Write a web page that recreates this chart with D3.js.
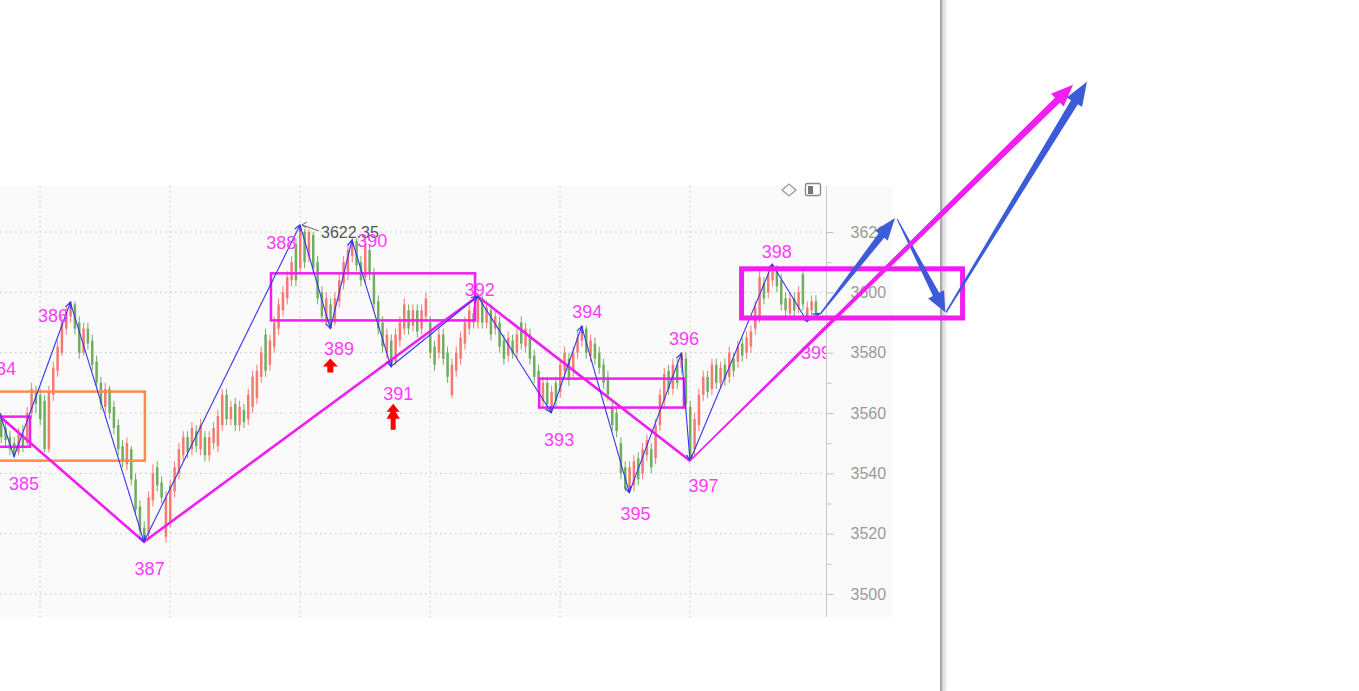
<!DOCTYPE html>
<html><head><meta charset="utf-8">
<script src="https://cdn.jsdelivr.net/npm/d3@7"></script>
<style>html,body{margin:0;padding:0;background:#fff;overflow:hidden}</style>
</head><body><svg id="c" width="1359" height="691"></svg>
<script>
// ---------- DATA ----------
const opens = [3558,3555,3552,3550,3547,3553,3550,3560,3567,3566,3564,3548,3566,3574,3580,3588,3592,3596,3590,3580,
3588,3584,3577,3570,3562,3568,3562,3556,3549,3543,3548,3538,3529,3522,3520,3531,3542,3537,3519,3524,
3534,3540,3546,3552,3548,3554,3548,3552,3546,3550,3549,3556,3566,3558,3563,3556,3561,3558,3562,3565,
3572,3586,3576,3582,3588,3594,3598,3604,3616,3608,3620,3612,3619,3610,3600,3590,3596,3590,3597,3603,
3606,3612,3617,3610,3605,3614,3606,3597,3590,3580,3584,3577,3584,3588,3594,3589,3594,3588,3592,3590,
3582,3580,3586,3580,3566,3574,3578,3583,3588,3593,3590,3598,3590,3594,3588,3590,3584,3579,3584,3580,
3590,3582,3586,3579,3574,3564,3570,3561,3570,3567,3574,3578,3574,3580,3584,3588,3579,3583,3580,3576,
3572,3562,3560,3550,3542,3534,3536,3545,3540,3546,3548,3545,3556,3564,3574,3568,3576,3575,3578,3562,
3548,3556,3566,3572,3568,3576,3570,3576,3572,3578,3577,3583,3580,3582,3588,3592,3603,3600,3604,3608,
3604,3598,3593,3598,3595,3606,3592,3594,3597];
const closes = [3552,3551,3548,3546,3553,3549,3560,3568,3563,3558,3548,3567,3575,3582,3590,3594,3597,3588,3580,3588,
3583,3576,3570,3563,3568,3560,3555,3548,3544,3550,3538,3528,3521,3518,3532,3540,3536,3532,3532,3536,
3542,3548,3552,3547,3555,3549,3556,3546,3552,3555,3559,3566,3558,3562,3556,3562,3557,3566,3572,3574,
3580,3574,3584,3590,3596,3600,3605,3610,3604,3622,3610,3620,3608,3598,3592,3598,3588,3598,3604,3610,
3614,3617,3609,3604,3616,3606,3596,3588,3582,3586,3576,3586,3590,3596,3588,3594,3587,3594,3598,3580,
3576,3586,3578,3572,3576,3580,3585,3590,3594,3590,3599,3590,3595,3586,3592,3582,3578,3585,3580,3586,
3583,3588,3578,3572,3568,3570,3563,3567,3564,3576,3580,3571,3580,3585,3589,3580,3584,3578,3575,3570,
3566,3556,3554,3540,3535,3542,3544,3538,3548,3551,3542,3556,3566,3573,3568,3576,3570,3580,3563,3545,
3558,3566,3572,3567,3576,3570,3575,3571,3580,3574,3582,3579,3585,3587,3595,3605,3598,3606,3609,3602,
3596,3594,3598,3594,3600,3596,3595,3597,3593];
const highs = [3560,3557,3554,3552,3555,3556,3562,3570,3569,3568,3566,3569,3577,3584,3592,3595,3597,3597,3592,3590,
3590,3586,3579,3572,3570,3569,3564,3558,3551,3552,3549,3540,3531,3524,3534,3543,3544,3539,3534,3538,
3544,3550,3554,3554,3557,3556,3558,3554,3554,3557,3561,3568,3568,3564,3565,3564,3563,3568,3574,3576,
3582,3588,3586,3592,3598,3602,3607,3612,3618,3622.35,3621,3621,3620,3612,3602,3600,3598,3600,3606,3612,
3616,3618,3618,3612,3618,3616,3608,3599,3592,3588,3586,3588,3592,3598,3596,3596,3596,3596,3600,3592,
3584,3588,3588,3582,3578,3582,3587,3592,3596,3595,3600,3599,3597,3596,3594,3592,3586,3587,3586,3588,
3592,3590,3588,3581,3576,3572,3572,3569,3572,3578,3582,3580,3582,3587,3589,3589,3586,3585,3582,3578,
3574,3564,3562,3552,3544,3544,3546,3547,3550,3553,3550,3558,3568,3575,3576,3578,3578,3580,3580,3564,
3560,3568,3574,3574,3578,3578,3577,3578,3582,3580,3584,3585,3587,3589,3597,3607,3605,3608,3609.3,3609,
3606,3600,3600,3600,3602,3607,3597,3599,3599];
const lows = [3550,3549,3546,3545,3546,3547,3549,3558,3560,3556,3547,3547,3564,3572,3579,3586,3590,3586,3578,3579,
3581,3574,3568,3561,3560,3558,3553,3546,3542,3541,3536,3526,3519,3517,3518,3529,3534,3530,3517,3522,
3532,3538,3544,3545,3546,3547,3546,3544,3544,3548,3547,3554,3556,3556,3554,3554,3555,3556,3560,3563,
3570,3572,3574,3580,3586,3592,3596,3602,3602,3606,3608,3610,3606,3596,3590,3589,3588,3589,3595,3601,
3604,3610,3607,3602,3603,3604,3594,3586,3580,3578,3575,3576,3582,3586,3586,3587,3585,3586,3590,3578,
3574,3578,3576,3570,3565,3572,3576,3581,3586,3588,3588,3588,3588,3584,3586,3580,3576,3577,3578,3578,
3581,3580,3576,3570,3566,3562,3561,3560,3562,3565,3572,3569,3572,3578,3582,3578,3577,3576,3573,3568,
3564,3554,3552,3538,3534,3533.6,3534,3536,3538,3544,3540,3543,3554,3562,3566,3566,3568,3573,3561,3544,
3546,3554,3564,3565,3566,3568,3568,3569,3570,3572,3575,3577,3578,3580,3586,3590,3596,3598,3602,3600,
3594,3592,3591,3592,3593,3594,3590.4,3592,3591];

// blue zigzag pivots [barIndex, price]
const blueZigzag = [[-1,3563],[3,3545.5],[16,3596.7],[33,3517.3],[69,3622.35],[76,3588],[81,3617.3],[90,3575.4],
  [110,3598.7],[127,3560.1],[134,3588.7],[145,3533.6],[157,3579.7],[159,3544.2],[178,3609.3],[186,3590.4],[188.8,3593]];
// magenta zigzag pivots
const magentaZigzag = [[-1,3559.8],[33,3517.3],[110,3598.7],[159,3544.2]];
// wave labels [text, barIndex, price]
const waveLabels = [["384",0,3574.8],["385",5.3,3536.5],["386",12,3592.4],["387",34.3,3508.6],["388",64.7,3616.6],
  ["389",78,3581.4],["390",85.7,3617.3],["391",91.7,3566.4],["392",110.5,3601],["393",128.8,3551.2],["394",135.3,3593.7],
  ["395",146.4,3526.6],["396",157.6,3584.7],["397",162.1,3535.9],["398",179,3613.6],["399",188.1,3580.1]];
// boxes [i0, i1, pHigh, pLow, kind]
const boxes = [[-1.4,33.2,3567.1,3544.2,"orange"],[-1.4,6.7,3558.8,3548.8,"thin"],[62.3,109.4,3606.3,3590.7,"thin"],
  [124.2,157.6,3571.4,3561.8,"thin"],[170.9,221.9,3607.8,3591.5,"thick"]];
// hand-drawn arrows [fromIndex, fromPrice, toIndex, toPrice, kind]
const sketchArrows = [[189.0,3592.7,206.3,3624.6,"blue1"],[206.8,3624.3,217.9,3593.4,"blue2"],
  [218.1,3593.4,250.6,3669.8,"blue3"],[159,3544.2,247.4,3668.8,"magenta"]];
// red signal arrows [barIndex, tipPrice, count]
const signals = [[76,3578.1,1],[90.5,3563.1,2]];
// extreme annotation
const highMark = [69, 3622.35];
// axis ticks
const yMajor = [3500,3520,3540,3560,3580,3600,3620];
const yMinor = [3510,3530,3550,3570,3590,3610];
const xGrid = [9,39,69,99,129,159];

// ---------- DRAW ----------
const svg = d3.select('#c');
const x = d3.scaleLinear().domain([0,30]).range([1,131]);
const y = d3.scaleLinear().domain([3500,3620]).range([594,232]);
const P = {l:0, t:186, r:893, b:617, ax:826};
const FONT = '"Liberation Sans", Arial, sans-serif';

svg.append('rect').attr('width',1359).attr('height',691).attr('fill','#fff');
svg.append('rect').attr('x',P.l).attr('y',P.t).attr('width',P.r-P.l).attr('height',P.b-P.t).attr('fill','#fafafa');

const defs = svg.append('defs');
defs.append('clipPath').attr('id','clip').append('rect').attr('x',0).attr('y',P.t).attr('width',P.ax).attr('height',P.b-P.t);
defs.append('marker').attr('id','vhead').attr('viewBox','-8 -5 10 10').attr('refX',0).attr('refY',0)
  .attr('markerWidth',10).attr('markerHeight',10).attr('markerUnits','userSpaceOnUse').attr('orient','auto')
  .append('path').attr('d','M-6,-3 L0,0 L-6,3').attr('fill','none').attr('stroke','#3535ee').attr('stroke-width',1.2);
const grad = defs.append('linearGradient').attr('id','shadow');
grad.append('stop').attr('offset','0').attr('stop-color','#000').attr('stop-opacity',0.18);
grad.append('stop').attr('offset','1').attr('stop-color','#000').attr('stop-opacity',0);

// grid
const grid = svg.append('g');
grid.selectAll('.hg').data(yMajor).join('line').attr('x1',0).attr('x2',P.ax-4)
  .attr('y1',d=>y(d)).attr('y2',d=>y(d)).attr('stroke','#c4c4c4').attr('stroke-dasharray','1.5,3.5');
grid.selectAll('.vg').data(xGrid).join('line').attr('x1',d=>x(d)).attr('x2',d=>x(d))
  .attr('y1',P.t).attr('y2',P.b).attr('stroke','#c4c4c4').attr('stroke-dasharray','1.5,3.5');

// axis
svg.append('line').attr('x1',P.ax+0.5).attr('x2',P.ax+0.5).attr('y1',P.t).attr('y2',P.b).attr('stroke','#c8c8c8');
const gA = svg.append('g').attr('transform',`translate(${P.ax+0.5},0)`)
  .call(d3.axisRight(y).tickValues(yMajor).tickSize(7).tickPadding(17).tickFormat(d3.format('d')));
const gB = svg.append('g').attr('transform',`translate(${P.ax+0.5},0)`)
  .call(d3.axisRight(y).tickValues(yMinor).tickSize(5).tickFormat(''));
[gA,gB].forEach(g=>{g.select('.domain').remove(); g.selectAll('line').attr('stroke','#c0c0c0');});
gA.selectAll('text').attr('fill','#9a9a9a').style('font-family',FONT).style('font-size','16px');

// icons top right
svg.append('path').attr('d','M782,190 L789,184 L796,190 L789,196 Z').attr('fill','none').attr('stroke','#9a9a9a').attr('stroke-width',1.3);
svg.append('rect').attr('x',805.5).attr('y',183.5).attr('width',15).attr('height',12).attr('rx',2).attr('fill','#fff').attr('stroke','#888').attr('stroke-width',1.3);
svg.append('rect').attr('x',808).attr('y',186).attr('width',5).attr('height',8).attr('fill','#777');

// plot content clipped
const pc = svg.append('g').attr('clip-path','url(#clip)');
const bars = opens.map((o,i)=>({i,o,c:closes[i],h:highs[i],l:lows[i]}));
const col = d=>d.c>=d.o ? '#f47a72' : '#6fae5e';
pc.selectAll('.wick').data(bars).join('line')
  .attr('x1',d=>x(d.i)+0.25).attr('x2',d=>x(d.i)+0.25).attr('y1',d=>y(d.h)).attr('y2',d=>y(d.l))
  .attr('stroke',col).attr('stroke-width',1);
pc.selectAll('.bar').data(bars).join('rect')
  .attr('x',d=>x(d.i)-1).attr('width',2.5)
  .attr('y',d=>y(Math.max(d.o,d.c))).attr('height',d=>Math.max(1,Math.abs(y(d.o)-y(d.c))))
  .attr('fill',col);

// boxes
const boxStyle = {orange:{c:'#ff8a4a',w:2.5}, thin:{c:'#f01ef0',w:2.5}, thick:{c:'#f01ef0',w:5}};
const drawBox = (g,b)=>g.append('rect').attr('x',x(b[0])).attr('y',y(b[2])).attr('width',x(b[1])-x(b[0]))
  .attr('height',y(b[3])-y(b[2])).attr('fill','none').attr('stroke',boxStyle[b[4]].c).attr('stroke-width',boxStyle[b[4]].w);
boxes.filter(b=>b[4]!=='thick').forEach(b=>drawBox(pc,b));

// magenta zigzag
const line = d3.line().x(d=>x(d[0])).y(d=>y(d[1]));
pc.append('path').attr('d',line(magentaZigzag)).attr('fill','none').attr('stroke','#f01ef0').attr('stroke-width',2.6).attr('stroke-linejoin','round');

// blue zigzag with vertex heads
pc.selectAll('.bz').data(d3.pairs(blueZigzag)).join('line')
  .attr('x1',d=>x(d[0][0])).attr('y1',d=>y(d[0][1])).attr('x2',d=>x(d[1][0])).attr('y2',d=>y(d[1][1]))
  .attr('stroke','#3535ee').attr('stroke-width',1.1).attr('marker-end',(d,k)=>k>0?'url(#vhead)':null);

// high annotation
const hx = x(highMark[0]), hy = y(highMark[1]);
pc.append('path').attr('d',`M${hx+2},${hy} L${hx+19},${hy+6} M${hx+7},${hy-3} L${hx+2},${hy} L${hx+6},${hy+3}`)
  .attr('fill','none').attr('stroke','#666').attr('stroke-width',1);
pc.append('text').attr('x',hx+21).attr('y',hy+13).text(d3.format('.2f')(highMark[1]))
  .attr('fill','#555').style('font-family',FONT).style('font-size','16px');

// labels
pc.selectAll('.wl').data(waveLabels).join('text').attr('x',d=>x(d[1])).attr('y',d=>y(d[2]))
  .attr('text-anchor','middle').attr('dy','0.36em').text(d=>d[0])
  .attr('fill','#ff3cff').style('font-family',FONT).style('font-size','18px');

// red signal arrows
const single = 'M0,0 L7.5,8 L3,8 L3,14 L-3,14 L-3,8 L-7.5,8 Z';
const dbl = 'M0,0 L6.5,8 L2.5,8 L6.5,15 L2.5,15 L2.5,26 L-2.5,26 L-2.5,15 L-6.5,15 L-2.5,8 L-6.5,8 Z';
pc.selectAll('.sig').data(signals).join('path')
  .attr('transform',d=>`translate(${x(d[0])},${y(d[1])})`).attr('d',d=>d[2]===2?dbl:single).attr('fill','#ff0000');

// splitter line
svg.append('rect').attr('x',940).attr('y',0).attr('width',2).attr('height',691).attr('fill','#a8a8a8');
svg.append('rect').attr('x',942).attr('y',0).attr('width',6).attr('height',691).attr('fill','url(#shadow)');

// thick box
boxes.filter(b=>b[4]==='thick').forEach(b=>drawBox(svg,b));

// hand drawn tapered arrows
const arrowStyle = {
  blue1:{c:'#3b5bd8',w0:1.5,w1:7,hl:22,hw:8},
  blue2:{c:'#3b5bd8',w0:1,w1:7,hl:20,hw:9},
  blue3:{c:'#3b5bd8',w0:1.5,w1:8,hl:24,hw:9},
  magenta:{c:'#f01ef0',w0:1.5,w1:7,hl:22,hw:9}
};
sketchArrows.forEach(a=>{
  const s = arrowStyle[a[4]];
  const p0=[x(a[0]),y(a[1])], p1=[x(a[2]),y(a[3])];
  const L=Math.hypot(p1[0]-p0[0],p1[1]-p0[1]);
  const d=[(p1[0]-p0[0])/L,(p1[1]-p0[1])/L], n=[-d[1],d[0]];
  const b=[p1[0]-d[0]*s.hl, p1[1]-d[1]*s.hl];
  const pt=(p,k)=>[p[0]+n[0]*k,p[1]+n[1]*k];
  const pts=[pt(p0,s.w0/2),pt(b,s.w1/2),pt(b,s.hw),p1,pt(b,-s.hw),pt(b,-s.w1/2),pt(p0,-s.w0/2)];
  svg.append('path').attr('d','M'+pts.map(p=>p.join(',')).join('L')+'Z').attr('fill',s.c);
});
</script></body></html>
